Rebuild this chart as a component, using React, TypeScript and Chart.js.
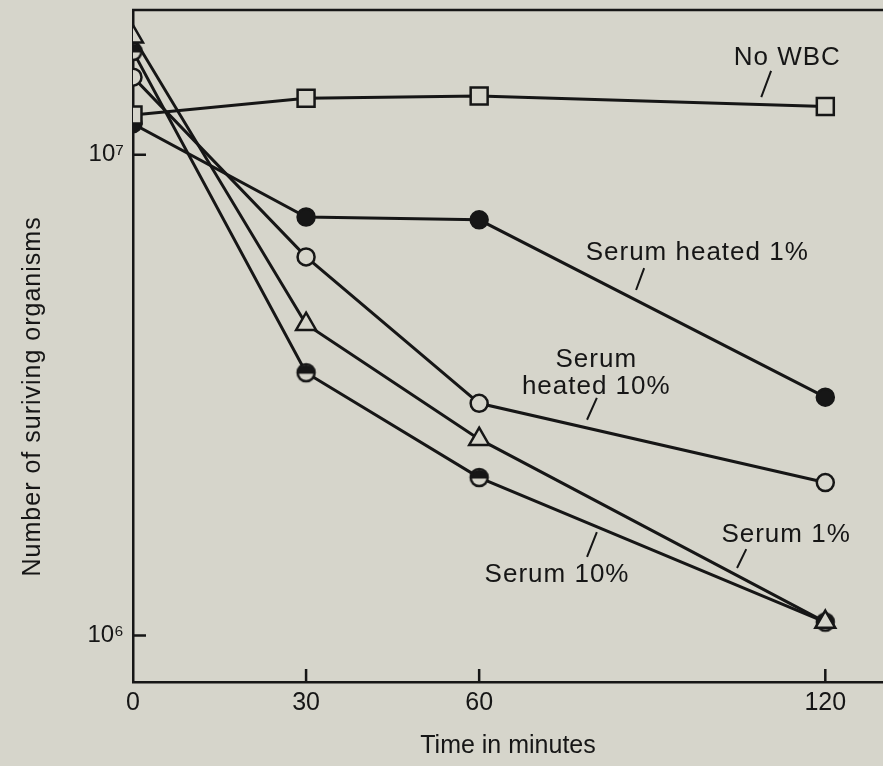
import React, { useEffect, useRef } from 'react';
import { Chart, registerables } from 'chart.js';

Chart.register(...registerables);

// ---- data ----
const times = [0, 30, 60, 120];
const noWBC = [1.21e7, 1.31e7, 1.325e7, 1.26e7];
const serumHeated1 = [1.16e7, 7.42e6, 7.32e6, 3.13e6];
const serumHeated10 = [1.45e7, 6.13e6, 3.04e6, 2.08e6];
const serum1 = [1.76e7, 4.44e6, 2.56e6, 1.066e6];
const serum10 = [1.64e7, 3.52e6, 2.13e6, 1.066e6];

const xTickValues = [0, 30, 60, 120];
const xTickLabels = ['0', '30', '60', '120'];
const yTickValues = [1e6, 1e7];
const yTickLabels = ['10⁶', '10⁷'];

const seriesNames = ['No WBC', 'Serum heated 1%', 'Serum heated 10%', 'Serum 1%', 'Serum 10%'];
const xTitle = 'Time in minutes';
const yTitle = 'Number of suriving organisms';

// annotation labels (text lines) and their anchors in data units
const labelLines = [['No WBC'], ['Serum heated 1%'], ['Serum', 'heated 10%'], ['Serum 1%'], ['Serum 10%']];
const labelAnchors = [
  [113.4, 1.589e7],
  [97.8, 6.245e6],
  [80.3, 3.74e6],
  [113.2, 1.618e6],
  [73.5, 1.336e6],
];
const leaderLines = [
  [[108.9, 1.318e7], [110.6, 1.494e7]],
  [[87.2, 5.23e6], [88.6, 5.81e6]],
  [[78.7, 2.81e6], [80.4, 3.12e6]],
  [[104.7, 1.381e6], [106.3, 1.512e6]],
  [[78.7, 1.456e6], [80.4, 1.641e6]],
];

const BG = '#d6d5cb';
const INK = '#161616';
const FONT = '"Liberation Sans", Arial, Helvetica, sans-serif';

function halfFilledCircle(r: number): HTMLCanvasElement {
  const s = Math.ceil(2 * r + 6);
  const c = document.createElement('canvas');
  c.width = s;
  c.height = s;
  const ctx = c.getContext('2d')!;
  const cx = s / 2;
  ctx.beginPath();
  ctx.arc(cx, cx, r, 0, Math.PI * 2);
  ctx.fillStyle = BG;
  ctx.fill();
  ctx.beginPath();
  ctx.arc(cx, cx + 1, r, Math.PI, Math.PI * 2);
  ctx.closePath();
  ctx.fillStyle = INK;
  ctx.fill();
  ctx.beginPath();
  ctx.arc(cx, cx, r, 0, Math.PI * 2);
  ctx.lineWidth = 2.5;
  ctx.strokeStyle = INK;
  ctx.stroke();
  return c;
}

const zeroPad = (s: any) => {
  s.paddingTop = 0;
  s.paddingBottom = 0;
  s.paddingLeft = 0;
  s.paddingRight = 0;
};

const decorPlugin = {
  id: 'decor',
  beforeDraw(chart: any) {
    const { ctx, width, height } = chart;
    ctx.save();
    ctx.fillStyle = BG;
    ctx.fillRect(0, 0, width, height);
    ctx.restore();
  },
  afterDraw(chart: any) {
    const { ctx, chartArea: a, scales } = chart;
    const x = scales.x;
    const y = scales.y;
    ctx.save();
    ctx.strokeStyle = INK;
    ctx.lineWidth = 2.5;
    ctx.beginPath();
    ctx.moveTo(a.left - 1, a.top);
    ctx.lineTo(a.right, a.top);
    xTickValues.forEach((v) => {
      if (v === 0) return;
      const px = x.getPixelForValue(v);
      ctx.moveTo(px, a.bottom);
      ctx.lineTo(px, a.bottom - 13);
    });
    yTickValues.forEach((v) => {
      const py = y.getPixelForValue(v);
      ctx.moveTo(a.left, py);
      ctx.lineTo(a.left + 13, py);
    });
    ctx.stroke();

    // leader lines
    ctx.lineWidth = 2;
    ctx.beginPath();
    leaderLines.forEach(([p0, p1]) => {
      ctx.moveTo(x.getPixelForValue(p0[0]), y.getPixelForValue(p0[1]));
      ctx.lineTo(x.getPixelForValue(p1[0]), y.getPixelForValue(p1[1]));
    });
    ctx.stroke();

    // annotation labels
    ctx.fillStyle = INK;
    ctx.font = `26px ${FONT}`;
    (ctx as any).letterSpacing = '1px';
    ctx.textAlign = 'center';
    ctx.textBaseline = 'middle';
    labelLines.forEach((lines, i) => {
      const px = x.getPixelForValue(labelAnchors[i][0]);
      const py = y.getPixelForValue(labelAnchors[i][1]);
      lines.forEach((t, j) => ctx.fillText(t, px, py + j * 27));
    });

    // y-axis title
    ctx.font = `25px ${FONT}`;
    ctx.translate(33, a.top + (a.bottom - a.top) * 0.575);
    ctx.rotate(-Math.PI / 2);
    ctx.fillText(yTitle, 0, 0);
    ctx.restore();
  },
};

export default function App() {
  const ref = useRef<HTMLCanvasElement>(null);
  useEffect(() => {
    document.body.style.margin = '0';
    document.body.style.overflow = 'hidden';
    document.body.style.background = BG;
    const half = halfFilledCircle(8.5);
    const mk = (vals: number[]) => times.map((t, i) => ({ x: t, y: vals[i] }));
    const base = { borderColor: INK, borderWidth: 3, pointBorderColor: INK, pointBorderWidth: 2.5, tension: 0 };
    const chart = new Chart(ref.current!, {
      type: 'line',
      data: {
        datasets: [
          { ...base, label: seriesNames[0], data: mk(noWBC), pointStyle: 'rect', pointRadius: 12, pointBackgroundColor: BG },
          { ...base, label: seriesNames[1], data: mk(serumHeated1), pointStyle: 'circle', pointRadius: 8.5, pointBackgroundColor: INK },
          { ...base, label: seriesNames[2], data: mk(serumHeated10), pointStyle: 'circle', pointRadius: 8.5, pointBackgroundColor: BG },
          { ...base, label: seriesNames[3], data: mk(serum1), pointStyle: 'triangle', pointRadius: 11.5, pointBackgroundColor: BG },
          { ...base, label: seriesNames[4], data: mk(serum10), pointStyle: half, pointRadius: 8.5, pointBackgroundColor: BG },
        ] as any,
      },
      options: {
        animation: false,
        responsive: true,
        maintainAspectRatio: false,
        layout: { autoPadding: false, padding: { top: 10, right: 0, left: 0, bottom: 0 } },
        plugins: { legend: { display: false }, tooltip: { enabled: false } },
        elements: { point: { hoverRadius: 8.5 } },
        scales: {
          x: {
            type: 'linear',
            min: 0,
            max: 130,
            grid: { display: false, drawTicks: false },
            border: { display: true, color: INK, width: 2.5 },
            afterBuildTicks: (s: any) => {
              s.ticks = xTickValues.map((v) => ({ value: v }));
            },
            afterFit: (s: any) => {
              s.height = 84;
              zeroPad(s);
            },
            ticks: {
              padding: 6,
              color: INK,
              font: { family: FONT, size: 25 },
              maxRotation: 0,
              callback: (v: any) => {
                const i = xTickValues.indexOf(Number(v));
                return i >= 0 ? xTickLabels[i] : '';
              },
            },
            title: {
              display: true,
              text: xTitle,
              color: INK,
              font: { family: FONT, size: 25 },
              padding: { top: 0, bottom: 5 },
            },
          },
          y: {
            type: 'logarithmic',
            min: 8e5,
            max: 2e7,
            grid: { display: false, drawTicks: false },
            border: { display: true, color: INK, width: 2.5 },
            afterBuildTicks: (s: any) => {
              s.ticks = yTickValues.map((v) => ({ value: v }));
            },
            afterFit: (s: any) => {
              s.width = 133;
              zeroPad(s);
            },
            ticks: {
              padding: 9,
              color: INK,
              font: { family: FONT, size: 24 },
              callback: (v: any) => {
                const i = yTickValues.indexOf(Number(v));
                return i >= 0 ? yTickLabels[i] : '';
              },
            },
          },
        },
      },
      plugins: [decorPlugin],
    } as any);
    return () => chart.destroy();
  }, []);
  return (
    <div style={{ position: 'relative', width: 883, height: 766, overflow: 'hidden' }}>
      <canvas ref={ref} style={{ display: 'block' }} />
    </div>
  );
}
